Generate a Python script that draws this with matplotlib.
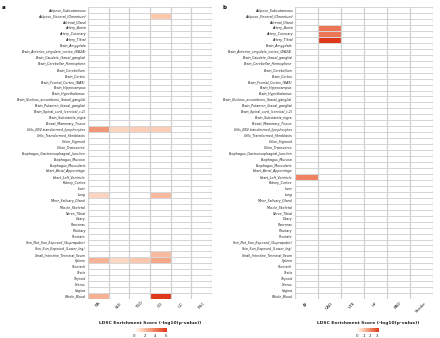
import numpy as np
import matplotlib
matplotlib.use('Agg')
import matplotlib.pyplot as plt
from matplotlib.colors import LinearSegmentedColormap

tissues = ['Adipose_Subcutaneous', 'Adipose_Visceral_(Omentum)', 'Adrenal_Gland',
           'Artery_Aorta', 'Artery_Coronary', 'Artery_Tibial', 'Brain_Amygdala',
           'Brain_Anterior_cingulate_cortex_(BA24)', 'Brain_Caudate_(basal_ganglia)',
           'Brain_Cerebellar_Hemisphere', 'Brain_Cerebellum', 'Brain_Cortex',
           'Brain_Frontal_Cortex_(BA9)', 'Brain_Hippocampus', 'Brain_Hypothalamus',
           'Brain_Nucleus_accumbens_(basal_ganglia)', 'Brain_Putamen_(basal_ganglia)',
           'Brain_Spinal_cord_(cervical_c-1)', 'Brain_Substantia_nigra',
           'Breast_Mammary_Tissue', 'Cells_EBV-transformed_lymphocytes',
           'Cells_Transformed_fibroblasts', 'Colon_Sigmoid', 'Colon_Transverse',
           'Esophagus_Gastroesophageal_Junction', 'Esophagus_Mucosa',
           'Esophagus_Muscularis', 'Heart_Atrial_Appendage', 'Heart_Left_Ventricle',
           'Kidney_Cortex', 'Liver', 'Lung', 'Minor_Salivary_Gland', 'Muscle_Skeletal',
           'Nerve_Tibial', 'Ovary', 'Pancreas', 'Pituitary', 'Prostate',
           'Skin_Not_Sun_Exposed_(Suprapubic)', 'Skin_Sun_Exposed_(Lower_leg)',
           'Small_Intestine_Terminal_Ileum', 'Spleen', 'Stomach', 'Testis', 'Thyroid',
           'Uterus', 'Vagina', 'Whole_Blood']

traits_a = ['RA', 'SLE', 'T1D', 'CD', 'UC', 'PSC']
traits_b = ['AF', 'CAD', 'VTE', 'HF', 'PAD', 'Stroke']

# non-zero -log10(p) scores, everything else is 0
scores_a = {
    ('Adipose_Visceral_(Omentum)', 'CD'): 1.8,
    ('Cells_EBV-transformed_lymphocytes', 'RA'): 3.3,
    ('Cells_EBV-transformed_lymphocytes', 'SLE'): 1.4,
    ('Cells_EBV-transformed_lymphocytes', 'T1D'): 1.6,
    ('Cells_EBV-transformed_lymphocytes', 'CD'): 1.6,
    ('Lung', 'RA'): 1.4,
    ('Lung', 'CD'): 2.3,
    ('Small_Intestine_Terminal_Ileum', 'CD'): 2.2,
    ('Spleen', 'RA'): 2.4,
    ('Spleen', 'SLE'): 1.3,
    ('Spleen', 'T1D'): 1.8,
    ('Spleen', 'CD'): 2.8,
    ('Whole_Blood', 'RA'): 2.5,
    ('Whole_Blood', 'CD'): 6.2,
}
scores_b = {
    ('Artery_Aorta', 'CAD'): 2.3,
    ('Artery_Coronary', 'CAD'): 2.3,
    ('Artery_Tibial', 'CAD'): 3.3,
    ('Heart_Left_Ventricle', 'AF'): 2.1,
}

cmap = LinearSegmentedColormap.from_list(
    'ldsc', [(0, 'white'), (0.3, '#fbc6ab'), (0.6, '#f08a68'), (1, '#e0391a')])


def to_matrix(scores, traits):
    m = np.zeros((len(tissues), len(traits)))
    for (t, c), v in scores.items():
        m[tissues.index(t), traits.index(c)] = v
    return m


fig = plt.figure(figsize=(4.4, 3.38), dpi=100)

panels = [
    ('a', traits_a, scores_a, [0.2, 0.115, 0.282, 0.864], [0, 2, 4, 6],
     [134 / 440, 6 / 338, 33 / 440, 4 / 338], 0.005),
    ('b', traits_b, scores_b, [0.670, 0.115, 0.314, 0.864], [0, 1, 2, 3],
     [357 / 440, 6 / 338, 22 / 440, 4 / 338], 0.505),
]

for letter, traits, scores, rect, cticks, crect, lx in panels:
    data = to_matrix(scores, traits)
    ax = fig.add_axes(rect)
    mesh = ax.pcolormesh(data, cmap=cmap, vmin=0, vmax=data.max(),
                         edgecolors='#d6d6d6', linewidth=0.4)
    for x in range(len(traits) + 1):
        ax.axvline(x, color='#d0d0d0', lw=0.9)
    ax.set_xlim(0, len(traits))
    ax.set_ylim(len(tissues), 0)
    ax.set_yticks(np.arange(len(tissues)) + 0.5)
    ax.set_yticklabels(tissues, fontsize=2.3, style='italic', color='#222222')
    ax.set_xticks(np.arange(len(traits)) + 0.5)
    ax.set_xticklabels(traits, fontsize=3.2, rotation=45, color='#222222')
    ax.tick_params(length=0, pad=1.5)
    for s in ax.spines.values():
        s.set_visible(False)

    cax = fig.add_axes(crect)
    cb = fig.colorbar(mesh, cax=cax, orientation='horizontal', ticks=cticks)
    cb.outline.set_visible(False)
    cax.tick_params(length=0, labelsize=2.8, pad=1.5, colors='#222222')
    cx = crect[0] + crect[2] / 2
    fig.text(cx, 0.043, 'LDSC Enrichment Score (-log10(p-value))',
             ha='center', va='center', fontsize=3.2, fontweight='bold', color='#222222')
    fig.text(lx, 0.985, letter, ha='left', va='top', fontsize=4, fontweight='bold')

plt.savefig('out.png', dpi=100)
